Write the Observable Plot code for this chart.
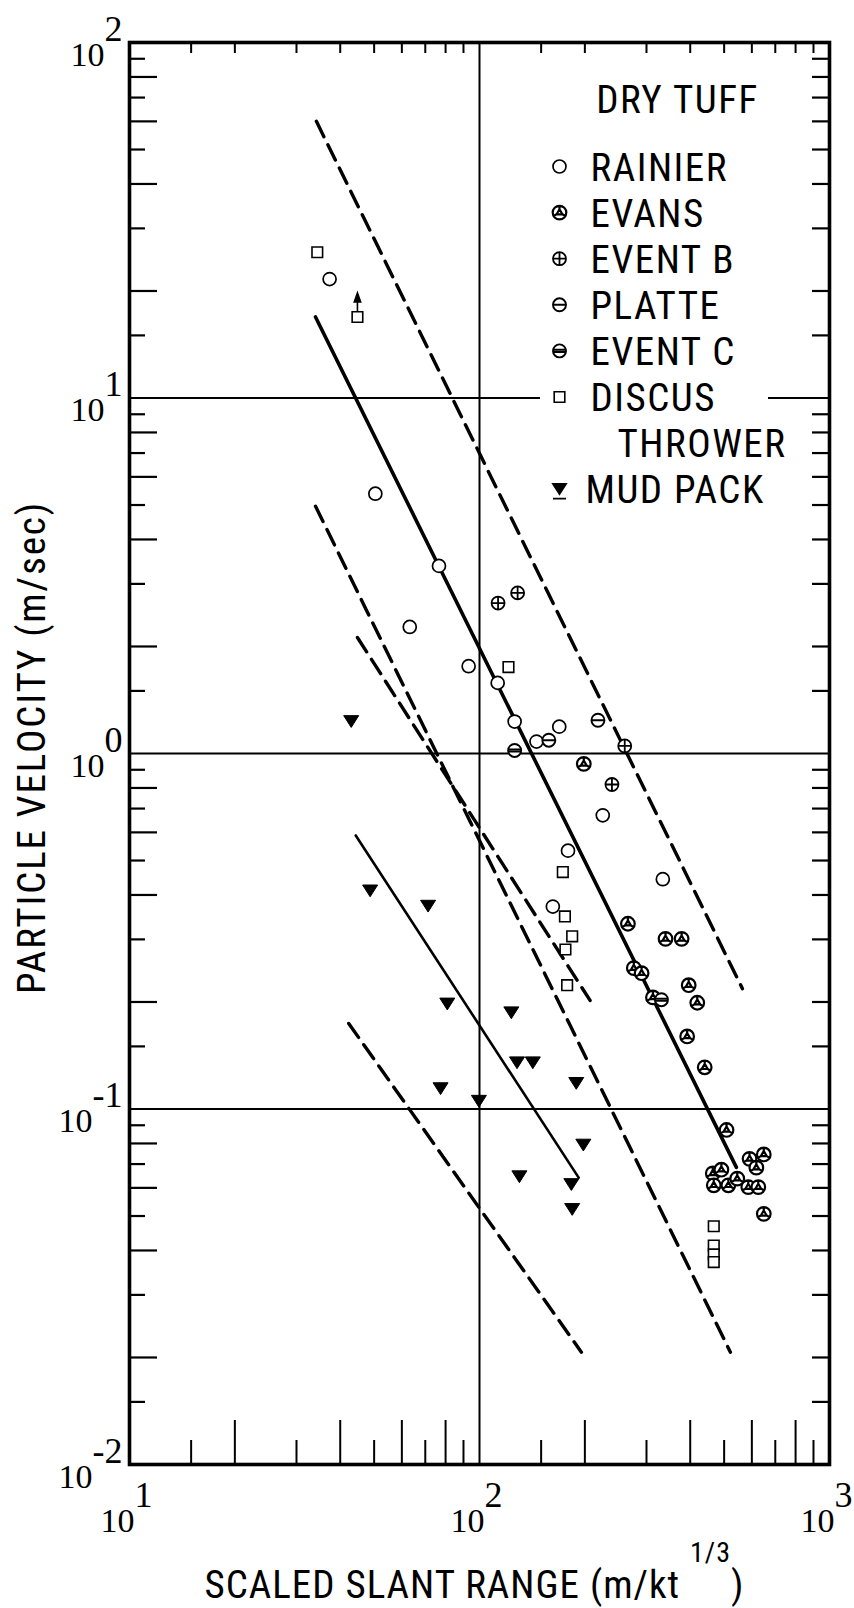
<!DOCTYPE html>
<html>
<head>
<meta charset="utf-8">
<script src="https://cdn.jsdelivr.net/npm/d3@7"></script>
<script src="https://cdn.jsdelivr.net/npm/@observablehq/plot@0.6"></script>
<style>
  html, body { margin: 0; padding: 0; background: #fff; }
  #chart svg { display: block; }
</style>
</head>
<body>
<div id="chart"></div>
<script>
// Particle velocity vs. scaled slant range — dry tuff events and mud-pack gauges.
// Each point is [scaled slant range (m/kt^1/3), particle velocity (m/sec)].

const rainier = [[37.3, 21.6], [50.4, 5.38], [63.2, 2.27], [76.6, 3.37], [93.1, 1.76], [112.7, 1.58],
  [126, 1.23], [145.5, 1.08], [169, 1.19], [162, 0.371], [179, 0.533], [225, 0.67], [334, 0.443]];
const evans = [[198.6, 0.935], [265.5, 0.332], [340, 0.301], [378, 0.301], [276, 0.249], [290.5, 0.241],
  [396, 0.223], [313, 0.206], [419, 0.199], [392, 0.160], [440, 0.131], [508, 0.0873], [591, 0.0724],
  [649, 0.0745], [618, 0.0684], [464, 0.0659], [491, 0.0675], [467, 0.061], [514, 0.061], [545, 0.0637],
  [586, 0.0603], [626, 0.0603], [649, 0.0507]];
const eventB = [[113, 2.65], [128.5, 2.83], [239, 0.818], [260, 1.05]];
const platte = [[157.8, 1.09], [218, 1.24]];
const eventC = [[126, 1.02], [331, 0.203]];
const discusThrower = [[34.4, 25.7], [44.8, 16.9], [121, 1.75], [173, 0.464], [175.4, 0.348], [184, 0.306],
  [176, 0.281], [178, 0.223], [467, 0.0468], [467, 0.0413], [467, 0.039], [467, 0.0371]];
const discusLowerLimit = [[44.8, 16.9]];   // value is a lower bound (arrow up)
const mudPack = [[43.0, 1.24], [48.7, 0.414], [71.3, 0.375], [80.9, 0.199], [77.4, 0.115], [99.6, 0.106],
  [123.3, 0.188], [128, 0.136], [142, 0.136], [189, 0.119], [198, 0.0798], [130, 0.065], [183, 0.0618],
  [184, 0.0526]];

// Fitted trends (straight on log-log axes) and their bounds
const tuffFit = [[34.0, 16.9], [542, 0.0685]];
const tuffUpper = [[34.2, 60.0], [564, 0.218]];
const tuffLower = [[34.0, 4.96], [521, 0.0207]];
const mudFit = [[44.3, 0.588], [192, 0.0641]];
const mudUpper = [[44.8, 2.12], [207, 0.202]];
const mudLower = [[42.3, 0.174], [195.5, 0.0207]];

// Axes
const xDecades = [10, 100];
const yDecades = [0.01, 0.1, 1, 10];
const tickMantissas = [1.5, 2, 3, 4, 5, 6, 7, 8, 9];
const longMantissas = [2, 4, 6, 8];
const xLabelValues = [10, 100, 1000];
const xLabelExponents = ["1", "2", "3"];
const yLabelValues = [100, 10, 1, 0.1, 0.01];
const yLabelExponents = ["2", "1", "0", "-1", "-2"];
const xTitle = "SCALED SLANT RANGE (m/kt {1/3})";
const yTitle = "PARTICLE VELOCITY (m/sec)";

// Legend
const legendHeading = "DRY TUFF";
const legendLabels = ["RAINIER", "EVANS", "EVENT B", "PLATTE", "EVENT C", "DISCUS", "THROWER", "MUD PACK"];

// ---------- layout ----------
const width = 854, height = 1608;
const marginLeft = 129, marginRight = 25, marginTop = 42, marginBottom = 144;
const plotW = width - marginLeft - marginRight;
const plotH = height - marginTop - marginBottom;

const sans = "'Roboto Condensed', 'DejaVu Sans Condensed', 'DejaVu Sans', sans-serif";
const serif = "'Liberation Serif', 'DejaVu Serif', serif";

// ---------- custom symbols ----------
const rOf = size => Math.sqrt(size / Math.PI);
const ring = (c, r) => { c.moveTo(r, 0); c.arc(0, 0, r, 0, 2 * Math.PI); };
const symCircle = {draw(c, s) { ring(c, rOf(s)); }};
const symSquare = {draw(c, s) { const r = rOf(s); c.rect(-r, -r, 2 * r, 2 * r); }};
const symPlus = {draw(c, s) {
  const r = rOf(s); ring(c, r);
  c.moveTo(-r, 0); c.lineTo(r, 0); c.moveTo(0, -r); c.lineTo(0, r);
}};
const symBar = {draw(c, s) { const r = rOf(s); ring(c, r); c.moveTo(-r, 0); c.lineTo(r, 0); }};
const symHeavyBar = {draw(c, s) { const r = rOf(s); ring(c, r); c.rect(-r * 0.97, -1.1, r * 1.94, 2.2); }};
const symEvans = {draw(c, s) {
  const r = rOf(s); ring(c, r);
  const k = 0.5 * r;
  const pts = [-90, 30, 150].map(a => [Math.cos(a * Math.PI / 180), Math.sin(a * Math.PI / 180)]);
  c.moveTo(pts[0][0] * k, pts[0][1] * k);
  c.lineTo(pts[1][0] * k, pts[1][1] * k);
  c.lineTo(pts[2][0] * k, pts[2][1] * k);
  c.closePath();
  for (const [u, v] of pts) { c.moveTo(u * k, v * k); c.lineTo(u * r, v * r); }
}};
const symTriDown = {draw(c, s) {
  const r = rOf(s);
  c.moveTo(-r, -0.62 * r); c.lineTo(r, -0.62 * r); c.lineTo(0, 0.95 * r); c.closePath();
}};
const symTriDownBar = {draw(c, s) {
  const r = rOf(s);
  c.moveTo(-r, -0.8 * r); c.lineTo(r, -0.8 * r); c.lineTo(0, 0.75 * r); c.closePath();
  c.moveTo(-r, 1.45 * r); c.lineTo(r, 1.45 * r);
}};
const symArrowUp = {draw(c) {
  c.moveTo(0, -6); c.lineTo(0, -16);
  c.moveTo(-3.2, -15); c.lineTo(0, -24); c.lineTo(3.2, -15); c.closePath();
}};

const px = d => d[0], py = d => d[1];

// ---------- ticks ----------
const xTicks = xDecades.flatMap(d => tickMantissas.map(m => m * d));
const xLong = xDecades.flatMap(d => longMantissas.map(m => m * d));
const xShort = xTicks.filter(v => !xLong.includes(v));
const yTicks = yDecades.flatMap(d => tickMantissas.map(m => m * d));
const yLong = yDecades.flatMap(d => longMantissas.map(m => m * d));
const yShort = yTicks.filter(v => !yLong.includes(v));

const dashed = {stroke: "black", strokeWidth: 3.4, strokeDasharray: "17,9"};

// ---------- legend marks ----------
const legendSymbols = [
  {symbol: symCircle, r: 6.5, fill: "white", sw: 1.7},
  {symbol: symEvans, r: 6.8, fill: "white", sw: 2.2},
  {symbol: symPlus, r: 6.5, fill: "white", sw: 1.8},
  {symbol: symBar, r: 6.5, fill: "white", sw: 1.9},
  {symbol: symHeavyBar, r: 6.5, fill: "white", sw: 1.9},
  {symbol: symSquare, r: 5.3, fill: "white", sw: 1.6},
  null,
  {symbol: symTriDownBar, r: 6.5, fill: "black", sw: 1.8}
];
const textStyle = {fontSize: 39, fontFamily: sans, fill: "black", lineAnchor: "bottom"};
const legendMarks = legendLabels.flatMap((label, i) => {
  const s = legendSymbols[i];
  const baseline = 138 + i * 46.1;     // offset of the text baseline below the frame top
  const marks = [Plot.text([label], {
    text: d => d, frameAnchor: "top-left", textAnchor: "start",
    dx: s ? (i === 7 ? 456 : 461) : 488, dy: baseline, ...textStyle
  })];
  if (s) marks.push(Plot.dot([label], {
    frameAnchor: "top-left", dx: 430, dy: baseline - 14,
    symbol: s.symbol, r: s.r, fill: s.fill, stroke: "black", strokeWidth: s.sw
  }));
  return marks;
});

const pts = (data, symbol, r, fill, sw) =>
  Plot.dot(data, {x: px, y: py, symbol, r, fill, stroke: "black", strokeWidth: sw});

const chart = Plot.plot({
  width, height, marginLeft, marginRight, marginTop, marginBottom,
  x: {type: "log", domain: [10, 1000], axis: null},
  y: {type: "log", domain: [0.01, 100], axis: null},
  style: {background: "white", color: "black", fontFamily: sans},
  marks: [
    // grid lines at the decades
    Plot.ruleX([100], {stroke: "black", strokeWidth: 2}),
    Plot.ruleY([1, 0.1], {stroke: "black", strokeWidth: 2}),
    Plot.ruleY([10], {stroke: "black", strokeWidth: 2, insetRight: width - marginRight - 540}),
    Plot.ruleY([10], {stroke: "black", strokeWidth: 2, insetLeft: 768 - marginLeft}),

    // inward minor ticks on all four sides
    Plot.tickX(xLong, {x: d => d, insetTop: plotH - 44, strokeWidth: 2}),
    Plot.tickX(xShort, {x: d => d, insetTop: plotH - 24, strokeWidth: 2}),
    Plot.tickX(xTicks, {x: d => d, insetBottom: plotH - 11, strokeWidth: 2}),
    Plot.tickY(yLong, {y: d => d, insetRight: plotW - 28, strokeWidth: 2.2}),
    Plot.tickY(yShort, {y: d => d, insetRight: plotW - 16, strokeWidth: 2.2}),
    Plot.tickY(yTicks, {y: d => d, insetLeft: plotW - 17, strokeWidth: 2.2}),

    // trend lines
    Plot.line(tuffUpper, {x: px, y: py, ...dashed}),
    Plot.line(tuffFit, {x: px, y: py, stroke: "black", strokeWidth: 3.6}),
    Plot.line(tuffLower, {x: px, y: py, ...dashed}),
    Plot.line(mudUpper, {x: px, y: py, ...dashed}),
    Plot.line(mudFit, {x: px, y: py, stroke: "black", strokeWidth: 2.6}),
    Plot.line(mudLower, {x: px, y: py, ...dashed}),

    Plot.frame({stroke: "black", strokeWidth: 3.6}),

    // measurements
    pts(rainier, symCircle, 6.5, "white", 1.7),
    pts(evans, symEvans, 6.8, "white", 2.2),
    pts(eventB, symPlus, 6.5, "white", 1.8),
    pts(platte, symBar, 6.5, "white", 1.9),
    pts(eventC, symHeavyBar, 6.5, "white", 1.9),
    pts(discusThrower, symSquare, 5.3, "white", 1.6),
    Plot.dot(discusLowerLimit, {x: px, y: py, symbol: symArrowUp, fill: "black", stroke: "black", strokeWidth: 1.6}),
    pts(mudPack, symTriDown, 7.5, "black", 1),

    // legend
    Plot.text([legendHeading], {text: d => d, frameAnchor: "top-left", textAnchor: "middle",
      dx: 548, dy: 70, ...textStyle}),
    ...legendMarks,

    // tick labels
    Plot.text(yLabelValues, {y: d => d, text: (d, i) => `10{${yLabelExponents[i]}}`,
      frameAnchor: "left", textAnchor: "end", lineAnchor: "bottom", dx: -7, dy: 23,
      fontSize: 34, fontFamily: serif, fill: "black"}),
    Plot.text(xLabelValues, {x: d => d, text: (d, i) => `10{${xLabelExponents[i]}}`,
      frameAnchor: "bottom", textAnchor: "middle", lineAnchor: "bottom", dx: -3, dy: 67,
      fontSize: 34, fontFamily: serif, fill: "black"}),

    // axis titles
    Plot.text([yTitle], {text: d => d, frameAnchor: "left", textAnchor: "middle", rotate: -90, dx: -97, dy: -6,
      fontSize: 39, fontFamily: sans, fill: "black"}),
    Plot.text([xTitle], {text: d => d, frameAnchor: "bottom", textAnchor: "middle", lineAnchor: "bottom",
      dx: -5, dy: 133, fontSize: 39, fontFamily: sans, fill: "black"})
  ]
});

// Letter spacing of the condensed lettering
const spacing = new Map([[yTitle, "1.9px"], [xTitle, "1px"], [legendHeading, "1.5px"],
  ...legendLabels.map(l => [l, "1.5px"])]);

// Turn "base{sup}rest" strings into text with a raised superscript.
d3.select(chart).selectAll("text").each(function () {
  const el = d3.select(this);
  const content = el.text();
  if (spacing.has(content)) el.attr("letter-spacing", spacing.get(content));
  const m = content.match(/^(.*?)\{(.+?)\}(.*)$/);
  if (!m) return;
  const isTick = m[1] === "10";
  const raise = isTick ? 25 : 36;
  const supSize = isTick ? 36 : 28;
  el.text(null);
  el.append("tspan").text(m[1]);
  el.append("tspan").attr("dy", -raise).attr("font-size", supSize).text(m[2]);
  if (m[3]) el.append("tspan").attr("dy", raise).text(m[3]);
});

document.getElementById("chart").append(chart);
</script>
</body>
</html>
